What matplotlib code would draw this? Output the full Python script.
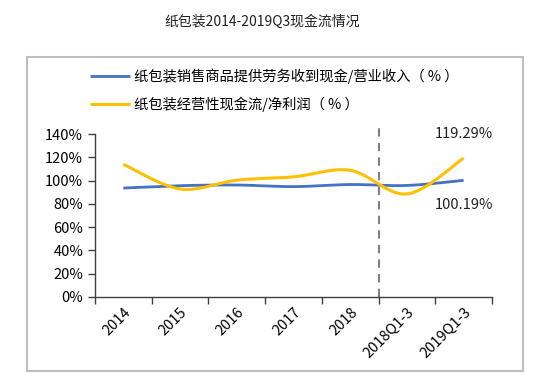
import numpy as np
import matplotlib
matplotlib.use("Agg")
import matplotlib.pyplot as plt
from matplotlib.patches import Rectangle

plt.rcParams['font.family'] = ['Noto Sans CJK SC', 'DejaVu Sans']

title = "纸包装2014-2019Q3现金流情况"
categories = ["2014", "2015", "2016", "2017", "2018", "2018Q1-3", "2019Q1-3"]
series_names = ["纸包装销售商品提供劳务收到现金/营业收入（ % ）", "纸包装经营性现金流/净利润（ % ）"]
cash_to_revenue = [93.6, 95.6, 96.2, 94.8, 96.6, 95.8, 100.19]
cash_to_profit = [114.0, 92.8, 100.3, 103.2, 108.8, 88.5, 119.29]
yticks = [0, 20, 40, 60, 80, 100, 120, 140]
colors = ["#4472C4", "#FFC000"]


def smooth(xs, ys, n=30):
    xs = np.asarray(xs, float); ys = np.asarray(ys, float)
    px = np.concatenate([[xs[0]], xs, [xs[-1]]])
    py = np.concatenate([[ys[0]], ys, [ys[-1]]])
    ox, oy = [], []
    t = np.linspace(0, 1, n)
    for i in range(1, len(px) - 2):
        p0 = np.array([px[i - 1], py[i - 1]]); p1 = np.array([px[i], py[i]])
        p2 = np.array([px[i + 1], py[i + 1]]); p3 = np.array([px[i + 2], py[i + 2]])
        c1 = p1 + (p2 - p0) / 6; c2 = p2 - (p3 - p1) / 6
        b = ((1 - t) ** 3)[:, None] * p1 + (3 * (1 - t) ** 2 * t)[:, None] * c1 \
            + (3 * (1 - t) * t ** 2)[:, None] * c2 + (t ** 3)[:, None] * p2
        ox.extend(b[:, 0]); oy.extend(b[:, 1])
    return ox, oy


fig = plt.figure(figsize=(5.52, 3.86), dpi=100)
fig.patch.set_facecolor("white")
fig.add_artist(Rectangle((27 / 552, 1 - 371 / 386), 496 / 552, 314 / 386,
                         transform=fig.transFigure, fill=False,
                         edgecolor="#BFBFBF", lw=1.5))
fig.text(262 / 552, 1 - 22 / 386, title, ha="center", va="center", fontsize=10, color="#222222")

ax = fig.add_axes([95 / 552, 1 - 297 / 386, 397 / 552, 163 / 386])
x = np.arange(len(categories)) + 0.5
sx, sy = smooth(x, cash_to_revenue)
l1, = ax.plot(sx, sy, color=colors[0], lw=2.0, solid_capstyle="butt")
sx, sy = smooth(x, cash_to_profit)
l2, = ax.plot(sx, sy, color=colors[1], lw=2.2, solid_capstyle="butt")

ax.set_xlim(0, len(categories))
ax.set_ylim(0, 140)
ax.set_yticks(yticks)
ax.set_yticklabels([f"{v}%" for v in yticks], fontsize=10.5)
ax.set_xticks(np.arange(len(categories) + 1))
ax.set_xticklabels([])
ax.set_xticks(x, minor=True)
ax.set_xticklabels(categories, minor=True, rotation=45, ha="right",
                   rotation_mode="anchor", fontsize=10.5)
ax.tick_params(axis="x", which="minor", length=0, pad=6)
ax.tick_params(axis="both", which="major", length=5, width=1, color="#404040")
for s in ["top", "right"]:
    ax.spines[s].set_visible(False)
for s in ["left", "bottom"]:
    ax.spines[s].set_color("#404040")
    ax.spines[s].set_linewidth(1)

ax.plot([5, 5], [0, 145], ls=(0, (4, 3)), color="#7F7F7F", lw=1.5, clip_on=False, zorder=0)

ax.text(x[-1], 140, f"{cash_to_profit[-1]:.2f}%", ha="center", va="center", fontsize=10.5, color="#222222")
ax.text(x[-1], 79, f"{cash_to_revenue[-1]:.2f}%", ha="center", va="center", fontsize=10.5, color="#222222")

fig.legend([l1, l2], series_names, loc="upper left",
           bbox_to_anchor=(77 / 552, 1 - 56 / 386), frameon=False,
           fontsize=10.3, handlelength=2.8, handletextpad=0.3, labelspacing=0.85)

fig.savefig("out.png", dpi=100)
